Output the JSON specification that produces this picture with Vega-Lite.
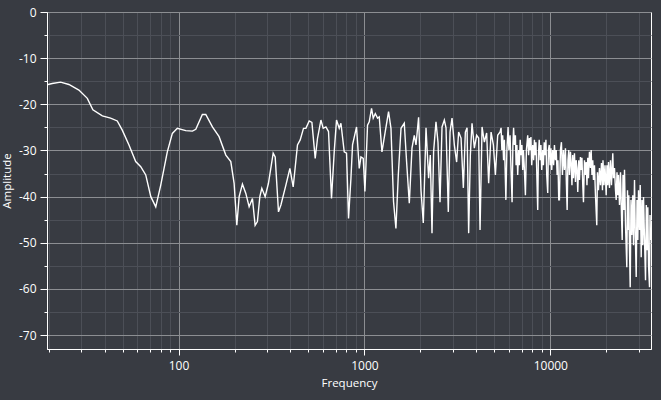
{
  "$schema": "https://vega.github.io/schema/vega-lite/v6.json",
  "width": 604,
  "height": 337,
  "autosize": {"type": "none"},
  "padding": {"left": 47, "top": 12, "right": 10, "bottom": 51},
  "background": "#383b42",
  "config": {
    "view": {"stroke": "#ffffff", "strokeWidth": 1},
    "font": "Segoe UI, Open Sans, sans-serif",
    "axis": {
      "domainColor": "#ffffff",
      "tickColor": "#ffffff",
      "labelColor": "#ffffff",
      "titleColor": "#ffffff",
      "labelFontSize": 12,
      "titleFontSize": 11.5,
      "titleFontWeight": "normal",
      "gridWidth": 1,
      "labelOverlap": false,
      "labelFlush": false
    }
  },
  "data": {"values": [
    {"freq":19.4,"amp":-15.8},{"freq":20.9,"amp":-15.5},{"freq":23.2,"amp":-15.2},{"freq":25.7,"amp":-15.7},{"freq":29.1,"amp":-16.9},
    {"freq":32.3,"amp":-18.7},{"freq":34.6,"amp":-21.2},{"freq":38.9,"amp":-22.5},{"freq":43.1,"amp":-23.0},{"freq":46.8,"amp":-23.6},
    {"freq":49.8,"amp":-25.6},{"freq":54.1,"amp":-28.8},{"freq":58.8,"amp":-32.4},{"freq":62.6,"amp":-33.5},{"freq":66.6,"amp":-35.3},
    {"freq":70.9,"amp":-40.0},{"freq":75.4,"amp":-42.2},{"freq":80.2,"amp":-37.5},{"freq":87.0,"amp":-30.3},{"freq":92.6,"amp":-26.3},
    {"freq":98.5,"amp":-25.2},{"freq":109.3,"amp":-25.7},{"freq":118.7,"amp":-25.8},{"freq":123.8,"amp":-25.4},{"freq":134.3,"amp":-22.2},
    {"freq":140.1,"amp":-22.2},{"freq":152.1,"amp":-24.9},{"freq":165.2,"amp":-27.0},{"freq":179.6,"amp":-31.0},{"freq":191.0,"amp":-32.4},
    {"freq":199.0,"amp":-37.1},{"freq":205.8,"amp":-46.2},{"freq":211.8,"amp":-40.0},{"freq":220.6,"amp":-37.3},{"freq":230.1,"amp":-39.3},
    {"freq":239.7,"amp":-42.2},{"freq":249.7,"amp":-40.4},{"freq":258.2,"amp":-46.2},{"freq":265.6,"amp":-45.4},{"freq":273.7,"amp":-40.0},
    {"freq":280.5,"amp":-38.2},{"freq":292.3,"amp":-40.0},{"freq":304.5,"amp":-37.1},{"freq":322.9,"amp":-30.6},{"freq":331.0,"amp":-31.4},
    {"freq":344.8,"amp":-43.3},{"freq":355.3,"amp":-41.8},{"freq":377.9,"amp":-37.5},{"freq":397.1,"amp":-33.9},{"freq":413.7,"amp":-37.9},
    {"freq":436.3,"amp":-28.8},{"freq":451.2,"amp":-27.7},{"freq":470.0,"amp":-25.2},{"freq":484.2,"amp":-25.2},{"freq":504.4,"amp":-23.6},
    {"freq":521.6,"amp":-23.9},{"freq":543.4,"amp":-31.7},{"freq":559.0,"amp":-27.4},{"freq":583.2,"amp":-23.4},{"freq":600.0,"amp":-25.2},
    {"freq":620.5,"amp":-24.9},{"freq":640.8,"amp":-25.9},{"freq":665.0,"amp":-40.4},{"freq":687.7,"amp":-30.3},{"freq":707.6,"amp":-23.4},
    {"freq":731.6,"amp":-25.2},{"freq":747.3,"amp":-24.1},{"freq":778.4,"amp":-30.3},{"freq":801.0,"amp":-30.6},{"freq":821.1,"amp":-44.7},
    {"freq":846.0,"amp":-36.0},{"freq":862.9,"amp":-28.8},{"freq":906.8,"amp":-24.9},{"freq":937.6,"amp":-33.9},{"freq":957.6,"amp":-31.4},
    {"freq":985.2,"amp":-31.7},{"freq":1006,"amp":-38.9},{"freq":1039,"amp":-24.5},{"freq":1061,"amp":-23.8},{"freq":1092,"amp":-20.9},
    {"freq":1115,"amp":-23.0},{"freq":1144,"amp":-22.0},{"freq":1176,"amp":-23.0},{"freq":1201,"amp":-22.7},{"freq":1242,"amp":-30.3},
    {"freq":1294,"amp":-25.9},{"freq":1348,"amp":-21.6},{"freq":1389,"amp":-25.2},{"freq":1434,"amp":-41.1},{"freq":1477,"amp":-46.9},
    {"freq":1521,"amp":-35.3},{"freq":1573,"amp":-25.2},{"freq":1638,"amp":-24.1},{"freq":1686,"amp":-32.5},{"freq":1743,"amp":-41.4},
    {"freq":1802,"amp":-29.5},{"freq":1854,"amp":-26.7},{"freq":1894,"amp":-28.8},{"freq":1956,"amp":-22.8},{"freq":2015,"amp":-38.6},
    {"freq":2073,"amp":-45.7},{"freq":2144,"amp":-25.1},{"freq":2214,"amp":-36.0},{"freq":2261,"amp":-31.0},{"freq":2309,"amp":-47.9},
    {"freq":2355,"amp":-30.3},{"freq":2426,"amp":-23.8},{"freq":2487,"amp":-28.2},{"freq":2550,"amp":-41.2},{"freq":2614,"amp":-24.9},
    {"freq":2690,"amp":-23.4},{"freq":2747,"amp":-25.1},{"freq":2826,"amp":-43.3},{"freq":2887,"amp":-26.0},{"freq":2959,"amp":-23.0},
    {"freq":3045,"amp":-28.8},{"freq":3133,"amp":-32.5},{"freq":3212,"amp":-26.0},{"freq":3309,"amp":-27.3},{"freq":3405,"amp":-38.1},
    {"freq":3490,"amp":-26.0},{"freq":3565,"amp":-25.1},{"freq":3636,"amp":-47.9},{"freq":3713,"amp":-31.0},{"freq":3791,"amp":-24.1},
    {"freq":3902,"amp":-29.5},{"freq":4014,"amp":-26.7},{"freq":4115,"amp":-27.3},{"freq":4187,"amp":-47.2},{"freq":4292,"amp":-24.9},
    {"freq":4417,"amp":-28.2},{"freq":4544,"amp":-26.2},{"freq":4658,"amp":-37.1},{"freq":4800,"amp":-26.0},{"freq":4939,"amp":-28.8},
    {"freq":5063,"amp":-35.3},{"freq":5210,"amp":-26.7},{"freq":5366,"amp":-26.0},{"freq":5433,"amp":-25.1},{"freq":5487,"amp":-29.9},
    {"freq":5542,"amp":-26.7},{"freq":5604,"amp":-32.1},{"freq":5660,"amp":-27.7},{"freq":5767,"amp":-40.7},{"freq":5838,"amp":-29.9},
    {"freq":5926,"amp":-24.9},{"freq":5985,"amp":-29.9},{"freq":6074,"amp":-26.7},{"freq":6135,"amp":-33.2},{"freq":6226,"amp":-41.2},
    {"freq":6289,"amp":-28.8},{"freq":6344,"amp":-25.1},{"freq":6407,"amp":-28.8},{"freq":6487,"amp":-26.7},{"freq":6544,"amp":-33.2},
    {"freq":6609,"amp":-28.8},{"freq":6675,"amp":-35.3},{"freq":6758,"amp":-29.9},{"freq":6817,"amp":-33.2},{"freq":6885,"amp":-27.7},
    {"freq":6962,"amp":-31.0},{"freq":7032,"amp":-28.8},{"freq":7102,"amp":-34.2},{"freq":7164,"amp":-29.9},{"freq":7235,"amp":-33.2},
    {"freq":7344,"amp":-39.7},{"freq":7435,"amp":-29.9},{"freq":7556,"amp":-26.7},{"freq":7641,"amp":-31.0},{"freq":7717,"amp":-27.3},
    {"freq":7784,"amp":-29.9},{"freq":7862,"amp":-27.1},{"freq":7940,"amp":-33.2},{"freq":8039,"amp":-28.8},{"freq":8130,"amp":-32.1},
    {"freq":8211,"amp":-27.7},{"freq":8282,"amp":-31.0},{"freq":8365,"amp":-28.2},{"freq":8448,"amp":-34.2},{"freq":8554,"amp":-42.9},
    {"freq":8628,"amp":-31.0},{"freq":8714,"amp":-27.7},{"freq":8812,"amp":-32.1},{"freq":8900,"amp":-28.8},{"freq":8988,"amp":-34.2},
    {"freq":9101,"amp":-29.9},{"freq":9180,"amp":-33.2},{"freq":9272,"amp":-28.2},{"freq":9376,"amp":-31.0},{"freq":9469,"amp":-27.7},
    {"freq":9564,"amp":-35.3},{"freq":9683,"amp":-39.2},{"freq":9767,"amp":-29.9},{"freq":9865,"amp":-28.8},{"freq":9975,"amp":-33.2},
    {"freq":10075,"amp":-29.5},{"freq":10174,"amp":-34.2},{"freq":10302,"amp":-29.9},{"freq":10418,"amp":-33.2},{"freq":10522,"amp":-28.8},
    {"freq":10653,"amp":-32.1},{"freq":10759,"amp":-29.9},{"freq":10880,"amp":-35.3},{"freq":10988,"amp":-32.1},{"freq":11098,"amp":-40.7},
    {"freq":11194,"amp":-40.7},{"freq":11334,"amp":-29.9},{"freq":11475,"amp":-28.2},{"freq":11618,"amp":-35.3},{"freq":11763,"amp":-29.9},
    {"freq":11910,"amp":-34.2},{"freq":12059,"amp":-29.5},{"freq":12209,"amp":-37.5},{"freq":12316,"amp":-42.9},{"freq":12438,"amp":-32.1},
    {"freq":12562,"amp":-29.9},{"freq":12672,"amp":-35.3},{"freq":12830,"amp":-30.3},{"freq":12941,"amp":-32.7},{"freq":13071,"amp":-37.5},
    {"freq":13201,"amp":-31.0},{"freq":13316,"amp":-36.0},{"freq":13483,"amp":-30.6},{"freq":13651,"amp":-36.8},{"freq":13770,"amp":-32.1},
    {"freq":13907,"amp":-33.8},{"freq":14046,"amp":-39.0},{"freq":14221,"amp":-32.1},{"freq":14345,"amp":-36.4},{"freq":14524,"amp":-31.4},
    {"freq":14650,"amp":-34.2},{"freq":14797,"amp":-31.6},{"freq":14944,"amp":-37.5},{"freq":15075,"amp":-41.2},{"freq":15263,"amp":-32.1},
    {"freq":15453,"amp":-35.3},{"freq":15588,"amp":-32.5},{"freq":15743,"amp":-37.5},{"freq":15901,"amp":-31.6},{"freq":16039,"amp":-36.0},
    {"freq":16238,"amp":-30.3},{"freq":16441,"amp":-33.8},{"freq":16583,"amp":-29.9},{"freq":16749,"amp":-35.3},{"freq":16916,"amp":-32.1},
    {"freq":17064,"amp":-36.4},{"freq":17277,"amp":-33.2},{"freq":17492,"amp":-39.7},{"freq":17777,"amp":-46.2},{"freq":17932,"amp":-34.7},
    {"freq":18155,"amp":-38.6},{"freq":18383,"amp":-33.8},{"freq":18612,"amp":-37.5},{"freq":18845,"amp":-32.7},{"freq":19080,"amp":-38.6},
    {"freq":19198,"amp":-32.1},{"freq":19438,"amp":-37.5},{"freq":19680,"amp":-33.2},{"freq":19976,"amp":-39.7},{"freq":20175,"amp":-33.2},
    {"freq":20377,"amp":-37.5},{"freq":20554,"amp":-32.5},{"freq":20809,"amp":-38.1},{"freq":21069,"amp":-32.1},{"freq":21331,"amp":-37.5},
    {"freq":21678,"amp":-30.6},{"freq":21867,"amp":-36.0},{"freq":22140,"amp":-33.8},{"freq":22417,"amp":-38.6},{"freq":22612,"amp":-40.7},
    {"freq":22837,"amp":-34.7},{"freq":23066,"amp":-39.7},{"freq":23266,"amp":-35.3},{"freq":23556,"amp":-41.8},{"freq":23850,"amp":-34.7},
    {"freq":24148,"amp":-44.0},{"freq":24355,"amp":-49.4},{"freq":24601,"amp":-35.3},{"freq":24846,"amp":-42.9},{"freq":25063,"amp":-34.2},
    {"freq":25376,"amp":-46.2},{"freq":25788,"amp":-55.3},{"freq":26013,"amp":-38.6},{"freq":26240,"amp":-47.2},{"freq":26436,"amp":-39.7},
    {"freq":26666,"amp":-51.6},{"freq":26898,"amp":-59.6},{"freq":27167,"amp":-40.7},{"freq":27436,"amp":-48.3},{"freq":27780,"amp":-39.7},
    {"freq":28022,"amp":-50.5},{"freq":28372,"amp":-36.4},{"freq":28654,"amp":-48.3},{"freq":28976,"amp":-57.4},{"freq":29265,"amp":-40.7},
    {"freq":29558,"amp":-49.4},{"freq":29815,"amp":-38.6},{"freq":30185,"amp":-47.2},{"freq":30448,"amp":-37.5},{"freq":30827,"amp":-53.1},
    {"freq":31135,"amp":-40.7},{"freq":31446,"amp":-50.5},{"freq":31720,"amp":-40.1},{"freq":32116,"amp":-49.4},{"freq":32517,"amp":-58.1},
    {"freq":32841,"amp":-41.8},{"freq":33127,"amp":-51.6},{"freq":33459,"amp":-42.3},{"freq":33749,"amp":-54.8},{"freq":34170,"amp":-59.6},
    {"freq":34383,"amp":-44.0},{"freq":34596,"amp":-49.4}
  ]},
  "mark": {"type": "line", "color": "#ffffff", "strokeWidth": 1.4, "clip": true},
  "encoding": {
    "x": {
      "field": "freq",
      "type": "quantitative",
      "scale": {"type": "log", "domain": [19.6, 34800], "nice": false},
      "axis": {
        "title": "Frequency",
        "values": [20,30,40,50,60,70,80,90,100,200,300,400,500,600,700,800,900,1000,2000,3000,4000,5000,6000,7000,8000,9000,10000,20000,30000],
        "labelExpr": "datum.value == 100 || datum.value == 1000 || datum.value == 10000 ? format(datum.value, 'd') : ''",
        "tickSize": {"condition": {"test": "datum.value == 100 || datum.value == 1000 || datum.value == 10000", "value": 6}, "value": 3},
        "gridColor": {"condition": {"test": "datum.value == 100 || datum.value == 1000 || datum.value == 10000", "value": "#8c8e92"}, "value": "#4c4f57"},
        "labelPadding": 5,
        "titlePadding": 6
      }
    },
    "y": {
      "field": "amp",
      "type": "quantitative",
      "scale": {"domain": [-73, 0], "nice": false, "zero": false},
      "axis": {
        "title": "Amplitude",
        "values": [0,-5,-10,-15,-20,-25,-30,-35,-40,-45,-50,-55,-60,-65,-70],
        "labelExpr": "datum.value % 10 == 0 ? '' + datum.value : ''",
        "tickSize": {"condition": {"test": "datum.value % 10 == 0", "value": 7}, "value": 3},
        "gridColor": {"condition": {"test": "datum.value % 10 == 0", "value": "#8c8e92"}, "value": "#4c4f57"},
        "labelPadding": 4,
        "titlePadding": 6
      }
    }
  }
}
